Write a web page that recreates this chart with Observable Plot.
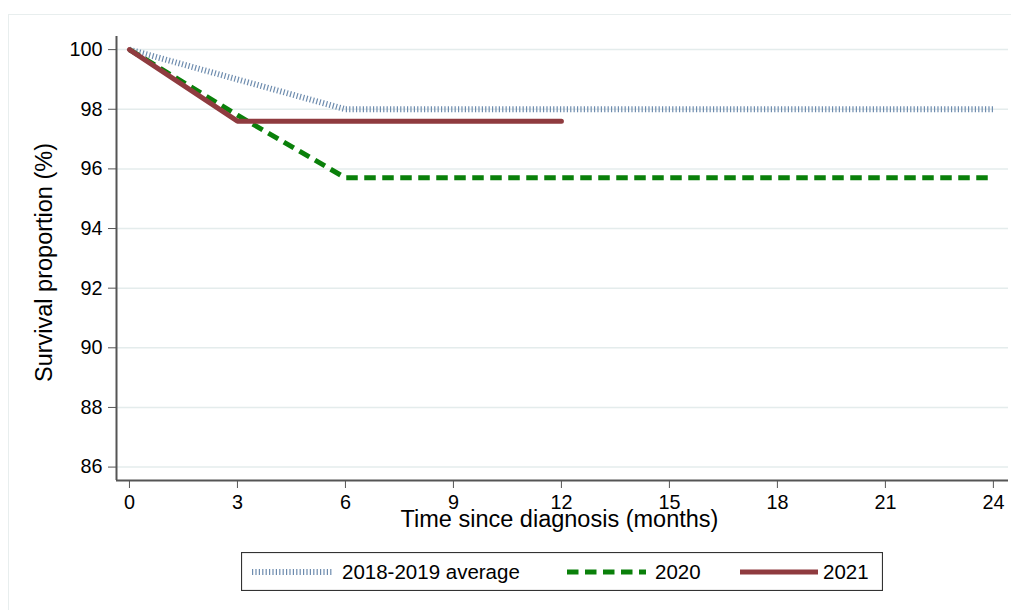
<!DOCTYPE html>
<html>
<head>
<meta charset="utf-8">
<script src="https://cdn.jsdelivr.net/npm/d3@7"></script>
<script src="https://cdn.jsdelivr.net/npm/@observablehq/plot@0.6"></script>
<style>
  html, body { margin: 0; padding: 0; background: #fff; }
  #wrap { position: relative; width: 1011px; height: 610px; overflow: hidden; font-family: "Liberation Sans", Arial, sans-serif; }
  #frame { position: absolute; left: 8px; top: 14px; width: 1010px; height: 620px; border: 1px solid #e8eeee; box-sizing: border-box; }
  #chart { position: absolute; left: 0; top: 0; }
  #legend { position: absolute; left: 241px; top: 552px; }
  #chart g[aria-label$="tick label"] text { font-size: 19.8px !important; }
</style>
</head>
<body>
<div id="wrap">
  <div id="frame"></div>
  <div id="chart"></div>
  <div id="legend"></div>
</div>
<script>
const months = [0, 3, 6, 9, 12, 15, 18, 21, 24];
const avg2018_2019 = [100, 99, 98, 98, 98, 98, 98, 98, 98];
const surv2020 = [100, 97.8, 95.7, 95.7, 95.7, 95.7, 95.7, 95.7, 95.7];
const months2021 = [0, 3, 6, 9, 12];
const surv2021 = [100, 97.6, 97.6, 97.6, 97.6];
const yTicks = [86, 88, 90, 92, 94, 96, 98, 100];
const xTicks = [0, 3, 6, 9, 12, 15, 18, 21, 24];
const seriesNames = ["2018-2019 average", "2020", "2021"];
const xDomain = [-0.36, 24.42];
const yDomain = [85.55, 100.44];

const dAvg = months.map((m, i) => ({m, v: avg2018_2019[i]}));
const d2020 = months.map((m, i) => ({m, v: surv2020[i]}));
const d2021 = months2021.map((m, i) => ({m, v: surv2021[i]}));

const colAvg = "#6e8cae", col2020 = "#0a800a", col2021 = "#8f3b3f";
const FONT = '"Liberation Sans", Arial, sans-serif';

const chart = Plot.plot({
  width: 1011,
  height: 545,
  marginLeft: 116,
  marginTop: 36,
  marginBottom: 65,
  marginRight: 3,
  x: {domain: xDomain},
  y: {domain: yDomain},
  style: {fontFamily: FONT, fontSize: "19.8px", color: "#000", background: "transparent"},
  marks: [
    Plot.gridY(yTicks, {stroke: "#e4ecec", strokeOpacity: 1, strokeWidth: 1.5}),
    Plot.axisY(yTicks, {tickSize: 8, tickPadding: 6, tickFormat: d => String(d), label: null, stroke: "#555", fontSize: 19.8}),
    Plot.axisX(xTicks, {tickSize: 8, tickPadding: 6, tickFormat: d => String(d), label: null, stroke: "#555", fontSize: 19.8}),
    Plot.ruleX([xDomain[0]], {stroke: "#555", strokeWidth: 2}),
    Plot.ruleY([yDomain[0]], {stroke: "#555", strokeWidth: 2}),
    Plot.line(dAvg, {x: "m", y: "v", stroke: colAvg, strokeWidth: 6, strokeDasharray: "1.2 2.2", strokeLinecap: "butt"}),
    Plot.line(d2020, {x: "m", y: "v", stroke: col2020, strokeWidth: 5, strokeDasharray: "11.5 6.5", strokeLinecap: "butt"}),
    Plot.line(d2021, {x: "m", y: "v", stroke: col2021, strokeWidth: 5, strokeLinejoin: "miter"}),
    Plot.text(["Survival proportion (%)"], {frameAnchor: "left", textAnchor: "middle", dx: -72, dy: 4, rotate: -90, fontSize: 23.5, fill: "#000"}),
    Plot.text(["Time since diagnosis (months)"], {frameAnchor: "bottom", textAnchor: "middle", dy: 46, dx: -3, fontSize: 23.5, fill: "#000"})
  ]
});
document.getElementById("chart").appendChild(chart);
d3.select(chart).selectAll('g[aria-label$="tick label"]').attr("font-size", 19.8)
  .selectAll("text").style("font-size", "19.8px");

// Legend
const lg = d3.select("#legend").append("svg").attr("width", 642).attr("height", 39);
lg.append("rect").attr("x", 0.5).attr("y", 0.5).attr("width", 641).attr("height", 38)
  .attr("fill", "#fff").attr("stroke", "#333").attr("stroke-width", 1.2);
const items = [
  {name: seriesNames[0], x0: 11, x1: 91, tx: 101, stroke: colAvg, w: 6, dash: "1.2 2.2"},
  {name: seriesNames[1], x0: 326, x1: 405, tx: 414, stroke: col2020, w: 5, dash: "11.5 6.5"},
  {name: seriesNames[2], x0: 499, x1: 577, tx: 582, stroke: col2021, w: 5, dash: null}
];
items.forEach(it => {
  const l = lg.append("line").attr("x1", it.x0).attr("x2", it.x1).attr("y1", 20).attr("y2", 20)
    .attr("stroke", it.stroke).attr("stroke-width", it.w);
  if (it.dash) l.attr("stroke-dasharray", it.dash);
  lg.append("text").attr("x", it.tx).attr("y", 20).attr("dy", "0.35em")
    .attr("font-family", FONT).attr("font-size", 20.5)
    .attr("fill", "#000").text(it.name);
});
</script>
</body>
</html>
